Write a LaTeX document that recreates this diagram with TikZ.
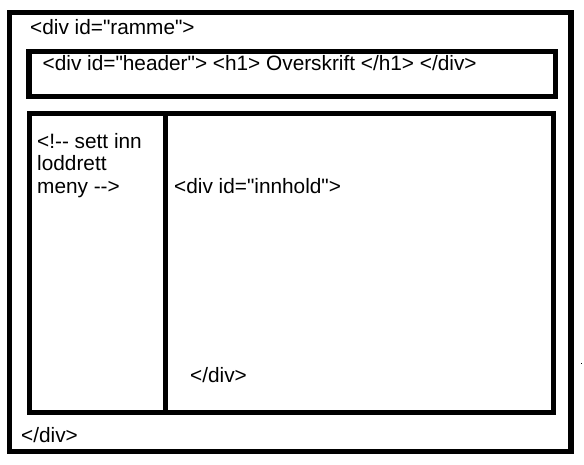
\documentclass[tikz,border=0pt]{standalone}
\usepackage{fontspec}
\setmainfont{Liberation Sans}[Ligatures=TeXOff]
\begin{document}
\begin{tikzpicture}[x=1pt,y=-1pt,
  frame/.style={draw=black,line width=5.5pt},
  lbl/.style={anchor=base west,inner sep=0pt,font=\fontsize{20.8}{22.5}\selectfont,align=left}]
\useasboundingbox[fill=white] (0,0) rectangle (584,464);
% outer frame (ramme)
\draw[frame] (9.5,12.5) rectangle (571,451.5);
% header
\draw[frame] (29,51.5) rectangle (555.5,96.5);
% content area
\draw[frame] (29.5,113.5) rectangle (553.5,412.5);
\draw[frame] (165.5,113.5) -- (165.5,412.5);
% texts
\node[lbl] (t1) at (30,34) {<div id="ramme">};
\node[lbl] (t2) at (42.5,70) {<div id="header"> <h1> Overskrift </h1> </div>};
\node[lbl] (t3) at (37,193) {<!-- sett inn\\loddrett\\meny -->};
\node[lbl] (t4) at (174,193) {<div id="innhold">};
\node[lbl] (t5) at (190,382) {</div>};
\node[lbl] (t6) at (21,442) {</div>};
\fill[black] (580.5,362.5) rectangle (581.5,363.5);
\end{tikzpicture}
\end{document}
